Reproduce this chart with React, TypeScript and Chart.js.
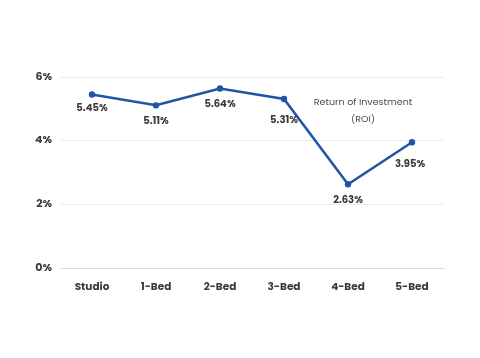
import React, { useEffect, useRef } from "react";
import { Chart, registerables } from "chart.js";

Chart.register(...registerables);

const categories = ["Studio", "1-Bed", "2-Bed", "3-Bed", "4-Bed", "5-Bed"];
const roiValues = [5.45, 5.11, 5.64, 5.31, 2.63, 3.95];
const yTicks = [0, 2, 4, 6];
const annotationLines = ["Return of Investment", "(ROI)"];

const FONT = "Poppins, Inter, 'Open Sans', 'DejaVu Sans', sans-serif";
const LABEL_OFFSETS = [14, 16, 16, 22, 16, 22];

export default function App() {
  const ref = useRef<HTMLCanvasElement | null>(null);

  useEffect(() => {
    document.body.style.margin = "0";
    const canvas = ref.current;
    if (!canvas) return;

    const labelPlugin = {
      id: "valueLabels",
      afterDatasetsDraw(chart: any) {
        const ctx = chart.ctx;
        const meta = chart.getDatasetMeta(0);
        ctx.save();
        ctx.font = `bold 10px ${FONT}`;
        ctx.fillStyle = "#3a3a3a";
        ctx.textAlign = "center";
        ctx.textBaseline = "middle";
        meta.data.forEach((pt: any, i: number) => {
          ctx.fillText(roiValues[i].toFixed(2) + "%", pt.x - (i === 5 ? 2 : 0), pt.y + LABEL_OFFSETS[i]);
        });
        const xs = chart.scales.x;
        const ys = chart.scales.y;
        const cx = xs.getPixelForValue(4) + 15;
        ctx.font = `9.5px ${FONT}`;
        ctx.fillStyle = "#4a4a4a";
        ctx.fillText(annotationLines[0], cx, ys.getPixelForValue(5.2));
        ctx.fillText(annotationLines[1], cx, ys.getPixelForValue(4.67));
        ctx.restore();
      },
    };

    const chart = new Chart(canvas, {
      type: "line",
      data: {
        labels: categories,
        datasets: [
          {
            label: "Return of Investment (ROI)",
            data: roiValues,
            borderColor: "#1f55a6",
            backgroundColor: "#1f55a6",
            borderWidth: 2.5,
            pointRadius: 3.2,
            pointBackgroundColor: "#1f55a6",
            pointBorderWidth: 0,
            tension: 0,
          },
        ],
      },
      options: {
        animation: false,
        responsive: false,
        maintainAspectRatio: false,
        layout: { padding: { left: 0, top: 77, right: 36, bottom: 60 } },
        plugins: {
          legend: { display: false },
          tooltip: { enabled: false },
        },
        scales: {
          x: {
            offset: true,
            grid: { display: false },
            border: { display: true, color: "#dcdcdc", width: 1 },
            ticks: {
              color: "#3a3a3a",
              font: { family: FONT, size: 10.5, weight: "bold" },
              padding: 5,
              maxRotation: 0,
            },
            afterFit(scale: any) {
              scale.height = 30;
            },
          },
          y: {
            min: 0,
            max: 6,
            afterBuildTicks(scale: any) {
              scale.ticks = yTicks.map((v) => ({ value: v }));
            },
            grid: { color: "#ececec", drawTicks: false, lineWidth: 1 },
            border: { display: false },
            ticks: {
              color: "#3a3a3a",
              font: { family: FONT, size: 11, weight: "bold" },
              padding: 8,
              callback: (v: any) => v + "%",
            },
            afterFit(scale: any) {
              scale.width = 60;
            },
          },
        },
      },
      plugins: [labelPlugin],
    });

    return () => chart.destroy();
  }, []);

  return (
    <div style={{ width: 480, height: 358, background: "#fff" }}>
      <canvas ref={ref} width={480} height={358} />
    </div>
  );
}
